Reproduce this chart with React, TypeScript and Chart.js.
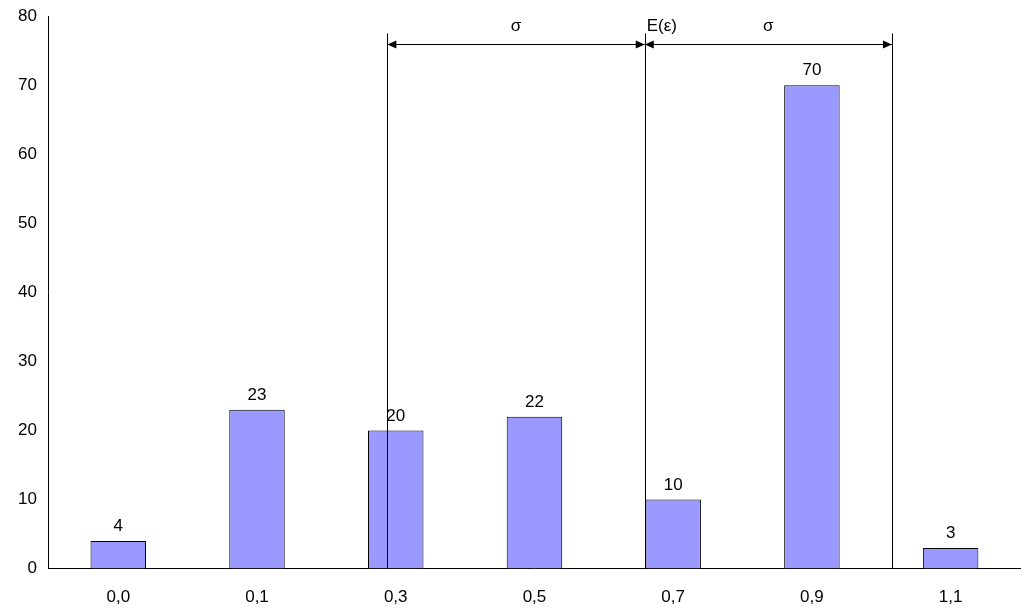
import React, { useEffect, useRef } from 'react';
import Chart from 'chart.js/auto';

const categories = ['0,0', '0,1', '0,3', '0,5', '0,7', '0,9', '1,1'];
const counts = [4, 23, 20, 22, 10, 70, 3];
const yTicks = [0, 10, 20, 30, 40, 50, 60, 70, 80];
// marker lines, in category-index units: E(ε) - σ, E(ε), E(ε) + σ
const markerPositions = [1.94, 3.795, 5.577];
const markerLabels = ['σ', 'E(ε)', 'σ'];

const annotations = {
    id: 'annotations',
    afterDatasetsDraw(chart: any) {
        const { ctx, scales, chartArea } = chart;
        const x = scales.x;
        const y = scales.y;
        const p0 = x.getPixelForValue(0);
        const step = x.getPixelForValue(1) - p0;
        const px = (v: number) => p0 + v * step;

        ctx.save();
        ctx.font = '17px "Liberation Sans", Arial, sans-serif';
        ctx.fillStyle = '#000';
        ctx.textAlign = 'center';
        ctx.textBaseline = 'bottom';
        // value labels
        const meta = chart.getDatasetMeta(0);
        meta.data.forEach((bar: any, i: number) => {
            ctx.fillText(String(counts[i]), bar.x, bar.y - 6);
        });

        // vertical lines
        const top = y.getPixelForValue(77.5);
        ctx.strokeStyle = '#000';
        ctx.lineWidth = 1;
        markerPositions.forEach((m) => {
            ctx.beginPath();
            ctx.moveTo(Math.round(px(m)) + 0.5, top);
            ctx.lineTo(Math.round(px(m)) + 0.5, chartArea.bottom);
            ctx.stroke();
        });

        // arrows
        const ay = Math.round(y.getPixelForValue(76)) + 0.5;
        const arrow = (a: number, b: number) => {
            ctx.beginPath();
            ctx.moveTo(a, ay);
            ctx.lineTo(b, ay);
            ctx.stroke();
            [[a, 1], [b, -1]].forEach(([xp, d]) => {
                ctx.beginPath();
                ctx.moveTo(xp, ay);
                ctx.lineTo(xp + d * 9, ay - 4);
                ctx.lineTo(xp + d * 9, ay + 4);
                ctx.closePath();
                ctx.fill();
            });
        };
        arrow(px(markerPositions[0]), px(markerPositions[1]));
        arrow(px(markerPositions[1]), px(markerPositions[2]));

        const ly = y.getPixelForValue(78.5);
        ctx.textBaseline = 'middle';
        ctx.fillText(markerLabels[0], (px(markerPositions[0]) + px(markerPositions[1])) / 2, ly);
        ctx.textAlign = 'left';
        ctx.fillText(markerLabels[1], px(markerPositions[1]) + 2, ly);
        ctx.textAlign = 'center';
        ctx.fillText(markerLabels[2], (px(markerPositions[1]) + px(markerPositions[2])) / 2, ly);
        ctx.restore();
    },
};

const App: React.FC = () => {
    const chartRef = useRef<HTMLCanvasElement>(null);
    const chartInstance = useRef<Chart | null>(null);

    useEffect(() => {
        document.body.style.margin = '0';
        if (!chartRef.current) return;
        const ctx = chartRef.current.getContext('2d');
        if (!ctx) return;
        const font = { family: '"Liberation Sans", Arial, sans-serif', size: 17 };

        chartInstance.current = new Chart(ctx, {
            type: 'bar',
            data: {
                labels: categories,
                datasets: [{
                    data: counts,
                    backgroundColor: '#9999ff',
                    borderColor: '#000',
                    borderWidth: 1,
                    barPercentage: 0.4,
                    categoryPercentage: 1,
                }],
            },
            options: {
                animation: false,
                responsive: true,
                maintainAspectRatio: false,
                layout: { padding: { left: 12, right: 8, top: 9, bottom: -6 } },
                plugins: { legend: { display: false }, tooltip: { enabled: false } },
                scales: {
                    x: {
                        grid: { display: false, drawTicks: true, tickLength: 6, offset: true },
                        border: { color: '#000' },
                        ticks: { color: '#000', font, padding: 13 },
                    },
                    y: {
                        min: 0,
                        max: 80,
                        afterBuildTicks: (axis: any) => { axis.ticks = yTicks.map((v) => ({ value: v })); },
                        grid: { display: false, drawTicks: true, tickLength: 6 },
                        border: { color: '#000' },
                        ticks: { color: '#000', font, padding: 6 },
                    },
                },
            },
            plugins: [annotations],
        });

        return () => {
            chartInstance.current?.destroy();
            chartInstance.current = null;
        };
    }, []);

    return (
        <div style={{ position: 'relative', width: 1028, height: 615 }}>
            <canvas ref={chartRef}></canvas>
        </div>
    );
};

export default App;
